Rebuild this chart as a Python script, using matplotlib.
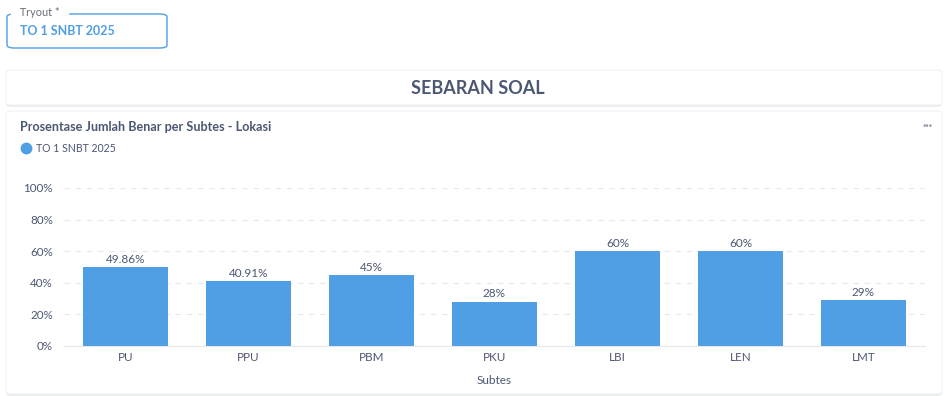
import matplotlib.pyplot as plt
from matplotlib.patches import FancyBboxPatch
from matplotlib.lines import Line2D

plt.rcParams['font.family'] = ['Lato', 'DejaVu Sans']

subtes = ["PU", "PPU", "PBM", "PKU", "LBI", "LEN", "LMT"]
persen = [49.86, 40.91, 45, 28, 60, 60, 29]
value_labels = ["49.86%", "40.91%", "45%", "28%", "60%", "60%", "29%"]
y_ticks = [0, 20, 40, 60, 80, 100]
series_name = "TO 1 SNBT 2025"

W, H = 945, 396
BLUE = "#509ee3"
TEXT = "#4c5773"
MUTED = "#696e7b"

fig = plt.figure(figsize=(W / 100, H / 100), dpi=100)
fig.patch.set_facecolor("white")


def fx(x):
    return x / W


def fy(y):
    return 1 - y / H


def card(x0, y0, x1, y1, ec="#f0f1f3", lw=0.8, r=6, fc="white", shadow=True):
    if shadow:
        sh = FancyBboxPatch((fx(x0), fy(y1 + 2)), fx(x1 - x0), (y1 - y0) / H,
                            boxstyle=f"round,pad=0,rounding_size={r / W}",
                            transform=fig.transFigure, fc="#ebedf0", ec="none",
                            zorder=0)
        fig.patches.append(sh)
    p = FancyBboxPatch((fx(x0), fy(y1)), fx(x1 - x0), (y1 - y0) / H,
                       boxstyle=f"round,pad=0,rounding_size={r / W}",
                       transform=fig.transFigure, fc=fc, ec=ec, lw=lw, zorder=1)
    fig.patches.append(p)


# tryout select box
card(7, 14, 167, 48, ec=BLUE, lw=1.0, r=7, shadow=False)
fig.text(fx(17), fy(13), " Tryout * ", fontsize=7.8, color=MUTED,
         va="center", ha="left", backgroundcolor="white", zorder=3)
fig.text(fx(20), fy(31), series_name, fontsize=9, color=BLUE,
         fontweight="bold", va="center", ha="left", zorder=3)

# heading card
card(6, 70, 942, 105)
fig.text(fx(478), fy(88), "SEBARAN SOAL", fontsize=13, color=TEXT,
         fontweight="bold", va="center", ha="center", zorder=3)

# chart card
card(6, 111, 942, 394)
fig.text(fx(20), fy(127), "Prosentase Jumlah Benar per Subtes - Lokasi",
         fontsize=9.1, color=TEXT, fontweight="bold", va="center", ha="left", zorder=3)
fig.text(fx(928), fy(126), "···", fontsize=9, color="#949aab",
         va="center", ha="center", zorder=3, fontweight="bold")
fig.add_artist(Line2D([fx(26)], [fy(148)], marker="o", markersize=7.5,
                      color=BLUE, ls="none", transform=fig.transFigure, zorder=3))
fig.text(fx(36), fy(148), series_name, fontsize=7.6, color=TEXT,
         va="center", ha="left", zorder=3)

# bar chart
ax = fig.add_axes([fx(64), fy(346), fx(925 - 64), (346 - 188) / H], zorder=4)
ax.patch.set_alpha(0)
x = range(len(subtes))
bars = ax.bar(x, persen, width=0.69, color=BLUE, zorder=3)
for b, lab in zip(bars, value_labels):
    ax.text(b.get_x() + b.get_width() / 2, b.get_height() + 1.5, lab,
            ha="center", va="bottom", fontsize=8.5, color=TEXT)

ax.set_xlim(-0.5, len(subtes) - 0.5)
ax.set_ylim(0, 100)
ax.set_yticks(y_ticks)
ax.set_yticklabels([f"{t}%" for t in y_ticks])
ax.set_xticks(list(x))
ax.set_xticklabels(subtes)
ax.tick_params(axis="both", length=0, labelsize=8.4, labelcolor=TEXT)
ax.tick_params(axis="y", pad=8)
ax.tick_params(axis="x", pad=4)
for t in y_ticks[1:]:
    ax.axhline(t, color="#e6e8ec", lw=0.8, ls=(0, (5, 5)), zorder=1)
for s in ["top", "right", "left"]:
    ax.spines[s].set_visible(False)
ax.spines["bottom"].set_color("#e6e8ec")
ax.set_xlabel("Subtes", fontsize=8.5, color=TEXT, labelpad=9)

fig.savefig("out.png", dpi=100)
